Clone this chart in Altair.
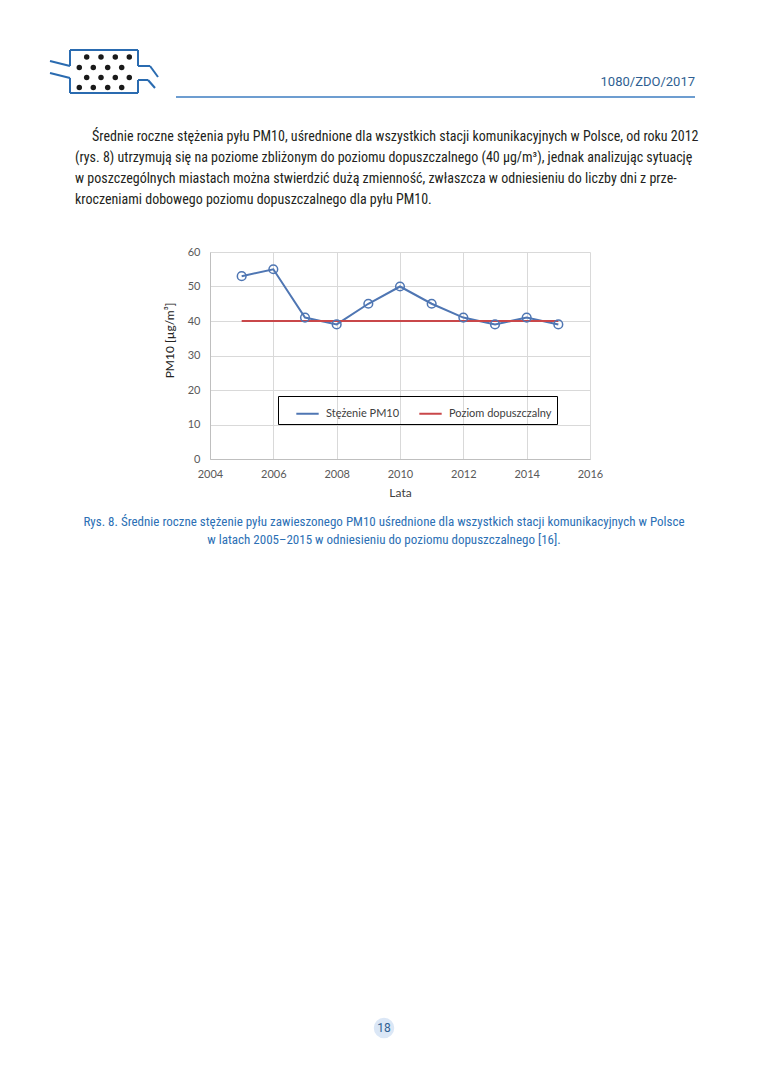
import altair as alt
import pandas as pd

# ---------------- data ----------------
years = [2005, 2006, 2007, 2008, 2009, 2010, 2011, 2012, 2013, 2014, 2015]
pm10 = [53, 55, 41, 39, 45, 50, 45, 41, 39, 41, 39]
limit_years = [2005, 2015]
limit_vals = [40, 40]
series_names = ["Stężenie PM10", "Poziom dopuszczalny"]
x_ticks = [2004, 2006, 2008, 2010, 2012, 2014, 2016]
y_ticks = [0, 10, 20, 30, 40, 50, 60]

header_text = "1080/ZDO/2017"
body_lines = [
    "Średnie roczne stężenia pyłu PM10, uśrednione dla wszystkich stacji komunikacyjnych w Polsce, od roku 2012",
    "(rys. 8) utrzymują się na poziome zbliżonym do poziomu dopuszczalnego (40 µg/m³), jednak analizując sytuację",
    "w poszczególnych miastach można stwierdzić dużą zmienność, zwłaszcza w odniesieniu do liczby dni z prze-",
    "kroczeniami dobowego poziomu dopuszczalnego dla pyłu PM10.",
]
caption_lines = [
    "Rys. 8. Średnie roczne stężenie pyłu zawieszonego PM10 uśrednione dla wszystkich stacji komunikacyjnych w Polsce",
    "w latach 2005–2015 w odniesieniu do poziomu dopuszczalnego [16].",
]
page_number = "18"

# ---------------- layout ----------------
OX, OY = 210, 252          # plot origin on page
W, H = 380, 207
BLUE = "#4f76b3"
RED = "#c9474a"
GRID = "#d9d9d9"
AXC = "#595959"
BODY_FONT = "Liberation Sans Narrow, Roboto Condensed, Noto Sans"
CHART_FONT = "Lato"
HEAD_BLUE = "#2f5f92"
LINE_BLUE = "#3c7dc0"
CAP_BLUE = "#2c70b5"


def px(x):
    return x - OX


def py(y):
    return y - OY


one = alt.Data(values=[{"k": 1}])


def text_layer(s, x, y, size, color, align="left", font=BODY_FONT, weight="normal"):
    return alt.Chart(alt.Data(values=[{"t": s}])).mark_text(
        align=align, baseline="middle", fontSize=size, color=color,
        font=font, fontWeight=weight
    ).encode(text="t:N", x=alt.value(px(x)), y=alt.value(py(y)))


def seg(x1, y1, x2, y2, color, width):
    return alt.Chart(one).mark_rule(color=color, strokeWidth=width).encode(
        x=alt.value(px(x1)), x2=alt.value(px(x2)),
        y=alt.value(py(y1)), y2=alt.value(py(y2))
    )


def dot(x, y, size, color):
    return alt.Chart(one).mark_circle(size=size, color=color, opacity=1).encode(
        x=alt.value(px(x)), y=alt.value(py(y))
    )


# ---------------- main chart ----------------
df = pd.DataFrame({
    "year": years + limit_years,
    "value": pm10 + limit_vals,
    "series": [series_names[0]] * len(years) + [series_names[1]] * len(limit_years),
})

color = alt.Color(
    "series:N",
    scale=alt.Scale(domain=series_names, range=[BLUE, RED]),
    legend=alt.Legend(
        title=None, orient="none", legendX=px(277) + 1, legendY=py(396),
        direction="horizontal", strokeColor="black", padding=5,
        symbolType="stroke", symbolSize=500, symbolStrokeWidth=2,
        labelFont=CHART_FONT, labelFontSize=11, labelColor="#404040",
        columnPadding=6, symbolOffset=12, labelOffset=6,
    ),
)

xenc = alt.X(
    "year:Q",
    scale=alt.Scale(domain=[2004, 2016], nice=False, zero=False),
    axis=alt.Axis(
        values=x_ticks, format="d", title="Lata", grid=True, gridColor=GRID,
        ticks=False, domainColor="#bfbfbf", labelColor=AXC, labelFontSize=11,
        labelFont=CHART_FONT, labelPadding=9, titlePadding=8, titleFont=CHART_FONT,
        titleFontSize=12, titleColor="#404040", titleFontWeight="normal",
        labelFlush=False, labelOverlap=False,
    ),
)
yenc = alt.Y(
    "value:Q",
    scale=alt.Scale(domain=[0, 60], nice=False),
    axis=alt.Axis(
        values=y_ticks, title="PM10 [µg/m³]", grid=True, gridColor=GRID,
        ticks=False, domainColor="#bfbfbf", labelColor=AXC, labelFontSize=11,
        labelFont=CHART_FONT, labelPadding=10, titleFont=CHART_FONT,
        titleFontSize=12, titleColor="#222222", titleFontWeight="normal",
        titleX=px(176), titleY=py(340), titleAngle=270,
        labelFlush=False, labelOverlap=False,
    ),
)

lines = alt.Chart(df).mark_line(strokeWidth=2).encode(
    x=xenc, y=yenc, color=color, order="year:Q"
)
points = alt.Chart(df).transform_filter(
    alt.datum.series == series_names[0]
).mark_point(filled=False, size=75, strokeWidth=1.5, color=BLUE, fill="white", fillOpacity=0).encode(
    x=xenc, y=yenc
)

layers = [lines, points]

# ---------------- page decoration ----------------
# logo
LC = "#2a6bb0"
logo_segs = [
    (70, 50, 138, 50), (70, 93, 138, 93),
    (70, 50, 70, 66), (70, 78, 70, 93),
    (138, 50, 138, 66), (138, 80, 138, 93),
    (50, 61, 70, 66), (50, 73, 70, 78),
    (138, 66, 150, 66), (150, 66, 158, 77),
    (138, 80, 148, 80), (148, 80, 155, 88),
]
for s in logo_segs:
    layers.append(seg(*s, LC, 2))
row_x_a = [86.7, 101, 115.3, 129.3]
row_x_b = [79.3, 93.3, 107.7, 121.7]
for ry, xs in [(57, row_x_a), (67.5, row_x_b), (77.5, row_x_a), (87.5, row_x_b)]:
    for xx in xs:
        layers.append(dot(xx, ry, 30, "#1a1a1a"))

layers.append(text_layer(header_text, 695, 82, 13, HEAD_BLUE, align="right", font="Roboto"))
layers.append(seg(176, 97, 695, 97, LINE_BLUE, 1.5))

body_pos = [(92, 137), (75, 158), (75, 179), (75, 200)]
for s, (bx, by) in zip(body_lines, body_pos):
    layers.append(text_layer(s, bx, by, 14, "#231f20"))

for s, cy in zip(caption_lines, [522, 540]):
    layers.append(text_layer(s, 384, cy, 13, CAP_BLUE, align="center"))

layers.append(dot(384, 1028, 420, "#dbe7f6"))
layers.append(text_layer(page_number, 384, 1028, 12, HEAD_BLUE, align="center", font="Roboto"))

chart = alt.layer(*layers).properties(
    width=W, height=H,
    autosize=alt.AutoSizeParams(type="none"),
    padding={"left": OX - 8, "top": OY - 8, "right": 752 - (OX - 8) - W, "bottom": 1068 - (OY - 8) - H},
    background="white",
).configure_view(strokeWidth=0)

chart.save("out.html", embed_options={"renderer": "svg", "actions": False})
